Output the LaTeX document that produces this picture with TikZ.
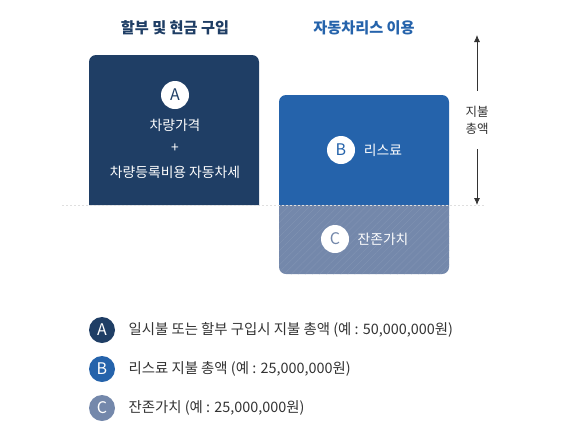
\documentclass[tikz,border=0pt]{standalone}
\usepackage{fontspec}
\setmainfont{Noto Sans CJK KR}
\usepackage{xcolor}
\usetikzlibrary{arrows.meta}
\usetikzlibrary{patterns.meta}
\definecolor{mynavy}{RGB}{31,62,101}
\definecolor{myblue}{RGB}{37,99,171}
\definecolor{mygrey}{RGB}{116,136,171}
\definecolor{mytext}{RGB}{51,51,51}

\tikzset{
  badge/.style={circle, fill=white, minimum size=28pt, inner sep=0pt, font=\fontsize{16}{16}\selectfont},
  legbadge/.style={circle, minimum size=26pt, inner sep=0pt, text=white, font=\fontsize{16}{16}\selectfont},
  boxtext/.style={text=white, font=\fontsize{13.8}{15}\selectfont},
  legtext/.style={anchor=west, text=mytext, font=\fontsize{14.4}{16}\selectfont},
  title/.style={font=\fontsize{15.2}{17}\bfseries\selectfont},
  tip/.style={-{Latex[length=7pt, width=6pt]}, mytext, line width=0.8pt}
}

\begin{document}
\begin{tikzpicture}[x=1pt, y=-1pt]
\useasboundingbox (0,0) rectangle (576,424);

 %titles
 \node[title, text=mynavy] (buytitle) at (175,28) {할부 및 현금 구입};
 \node[title, text=myblue] (leasetitle) at (364,28) {자동차리스 이용};

 %boxes
 \fill[mynavy, rounded corners=7pt] (89,205) -- (89,55) -- (259,55) -- (259,205);
 \fill[myblue, rounded corners=7pt] (279,205) -- (279,95) -- (449,95) -- (449,205);
 \fill[mygrey, rounded corners=7pt] (279,205) -- (279,274) -- (449,274) -- (449,205);
 \fill[pattern={Lines[angle=45, distance=5pt, line width=0.5pt]}, pattern color=white!8!mygrey, rounded corners=7pt]
   (279,205) -- (279,274) -- (449,274) -- (449,205);

 %base line
 \draw[gray!25, dashed, dash pattern=on 2pt off 2pt, line width=0.6pt] (62,205) -- (485,205);

 %box A
 \node[badge, text=mynavy] (markA) at (175,95) {A};
 \node[boxtext] (price) at (175,125) {차량가격};
 \node[boxtext] (plus) at (175,148) {+};
 \node[boxtext] (costs) at (175,172) {차량등록비용 자동차세};

 %box B and C
 \node[badge, text=myblue] (markB) at (341,150) {B};
 \node[boxtext] (lease) at (383,150) {리스료};
 \node[badge, text=mygrey] (markC) at (335,239) {C};
 \node[boxtext] (residual) at (383,239) {잔존가치};

 %total
 \node[text=mytext, align=center, inner ysep=15pt, font=\fontsize{12.5}{17}\selectfont] (total) at (477,120) {지불\\총액};
 \coordinate (totaltop) at (477,35);
 \coordinate (totalbot) at (477,205);
 \draw[tip] (total.north) -- (totaltop);
 \draw[tip] (total.south) -- (totalbot);

 %legend
 \node[legbadge, fill=mynavy] (legA) at (102,330) {A};
 \node[legtext] (legAtext) at (125,330) {일시불 또는 할부 구입시 지불 총액 (예 : 50,000,000원)};
 \node[legbadge, fill=myblue] (legB) at (102,369) {B};
 \node[legtext] (legBtext) at (125,369) {리스료 지불 총액 (예 : 25,000,000원)};
 \node[legbadge, fill=mygrey] (legC) at (102,408) {C};
 \node[legtext] (legCtext) at (125,408) {잔존가치 (예 : 25,000,000원)};
\end{tikzpicture}
\end{document}
